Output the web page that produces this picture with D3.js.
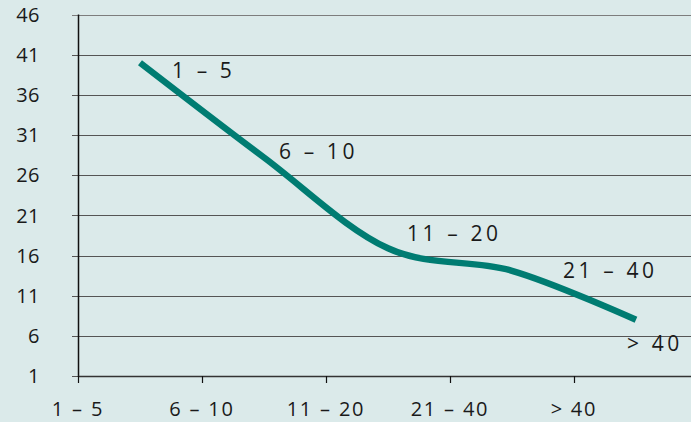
<!DOCTYPE html>
<html>
<head>
<meta charset="utf-8">
<script src="https://cdn.jsdelivr.net/npm/d3@7"></script>
<style>
  html, body { margin: 0; padding: 0; background: #dbeaea; }
  #canvas { width: 691px; height: 422px; overflow: hidden; }
  text { font-family: "Open Sans", "Noto Sans", sans-serif; fill: #1a1a1a; }
</style>
</head>
<body>
<div id="canvas"></div>
<script>
// chart data
var categories = ['1 – 5', '6 – 10', '11 – 20', '21 – 40', '> 40'];
var values = [40, 28.2, 16.9, 14.1, 8];
var pointLabels = ['1 – 5', '6 – 10', '11 – 20', '21 – 40', '> 40'];
var yTicks = [1, 6, 11, 16, 21, 26, 31, 36, 41, 46];

// where each point label sits relative to its point
var labelOffsets = [[32, 15], [15, 2], [19, -7], [51, 7], [-9, 31]];

var width = 691, height = 422;
var plotLeft = 78, plotTop = 14.5, plotBottom = 376;

var svg = d3.select('#canvas').append('svg')
  .attr('width', width)
  .attr('height', height);

svg.append('rect')
  .attr('width', width).attr('height', height)
  .attr('fill', '#dbeaea');

var x = d3.scaleBand()
  .domain(categories)
  .range([plotLeft, plotLeft + 124 * categories.length])
  .padding(0);

var y = d3.scaleLinear()
  .domain([1, 46])
  .range([plotBottom, plotTop]);

// horizontal grid lines
svg.append('g').selectAll('line').data(yTicks)
  .enter().append('line')
  .attr('x1', plotLeft - 6)
  .attr('x2', width)
  .attr('y1', function (d) { return Math.round(y(d)) + 0.5; })
  .attr('y2', function (d) { return Math.round(y(d)) + 0.5; })
  .attr('stroke', function (d) { return d === 46 ? '#7d7d7d' : '#555'; })
  .attr('stroke-width', 1.2);

// y labels
svg.append('g').selectAll('text').data(yTicks)
  .enter().append('text')
  .attr('x', 40)
  .attr('y', function (d) { return y(d); })
  .attr('dy', '0.36em')
  .attr('text-anchor', 'end')
  .style('font-size', '20px')
  .style('letter-spacing', '0.5px')
  .text(function (d) { return d; });

// y axis line
svg.append('line')
  .attr('x1', plotLeft + 0.5).attr('x2', plotLeft + 0.5)
  .attr('y1', y(46)).attr('y2', plotBottom + 1)
  .attr('stroke', '#111').attr('stroke-width', 1.5);

// x axis
svg.append('line')
  .attr('x1', plotLeft).attr('x2', width)
  .attr('y1', Math.round(plotBottom) + 0.5).attr('y2', Math.round(plotBottom) + 0.5)
  .attr('stroke', '#333').attr('stroke-width', 1.5);

svg.append('g').selectAll('line').data(categories)
  .enter().append('line')
  .attr('x1', function (d) { return Math.round(x(d)) + 0.5; })
  .attr('x2', function (d) { return Math.round(x(d)) + 0.5; })
  .attr('y1', plotBottom)
  .attr('y2', plotBottom + 7)
  .attr('stroke', '#111').attr('stroke-width', 1.2);

svg.append('g').selectAll('text').data(categories)
  .enter().append('text')
  .attr('x', function (d) { return x(d); })
  .attr('y', 416)
  .attr('text-anchor', 'middle')
  .style('font-size', '20px')
  .style('letter-spacing', '1.8px')
  .text(function (d) { return d; });

// the line
var pts = categories.map(function (c, i) {
  return [x(c) + x.bandwidth() / 2, y(values[i])];
});

var line = d3.line().curve(d3.curveCardinal.tension(0));

svg.append('path')
  .attr('d', line(pts))
  .attr('fill', 'none')
  .attr('stroke', '#007c72')
  .attr('stroke-width', 6.5);

// point labels
svg.append('g').selectAll('text').data(pointLabels)
  .enter().append('text')
  .attr('x', function (d, i) { return pts[i][0] + labelOffsets[i][0]; })
  .attr('y', function (d, i) { return pts[i][1] + labelOffsets[i][1]; })
  .style('font-size', '21px')
  .style('letter-spacing', '3.6px')
  .text(function (d) { return d; });
</script>
</body>
</html>
